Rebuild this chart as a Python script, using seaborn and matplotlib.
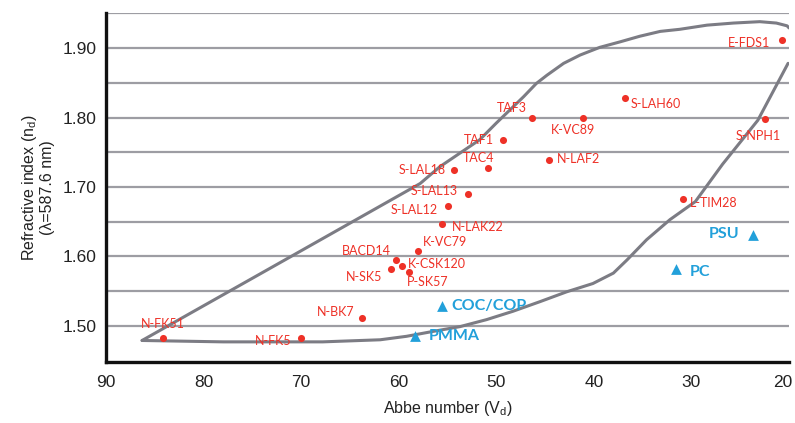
import pandas as pd
import matplotlib.pyplot as plt
import matplotlib.transforms as mtransforms
import seaborn as sns

# glass types: (Abbe number, refractive index)
glass_names = ["E-FDS1", "S-LAH60", "TAF3", "K-VC89", "S-NPH1", "TAF1", "TAC4",
               "S-LAL18", "N-LAF2", "S-LAL13", "L-TIM28", "S-LAL12", "N-LAK22",
               "K-VC79", "BACD14", "K-CSK120", "N-SK5", "P-SK57", "N-BK7",
               "N-FK51", "N-FK5"]
glass_abbe = [20.7, 36.8, 46.3, 41.1, 22.5, 49.3, 50.8, 54.3, 44.6, 52.9, 30.9,
              55.0, 55.6, 58.0, 60.3, 59.7, 60.8, 58.9, 63.8, 84.2, 70.0]
glass_nd = [1.912, 1.828, 1.800, 1.800, 1.798, 1.768, 1.727, 1.725, 1.739,
            1.690, 1.683, 1.673, 1.646, 1.608, 1.595, 1.586, 1.582, 1.577,
            1.511, 1.482, 1.482]
# label offsets in pixels (dx, dy) and alignment
glass_dx = [-12, 6, -6, -10, -6, -9, -10, -9, 8, -10, 7, -10, 10, 5, -5, 6, -9, -3, -7, 0, -10]
glass_dy = [-3, -6, 10, -12, -17, 0, 10, 0, 1, 3, -4, -4, -3, 9, 9, 2, -8, -10, 6, 14, -3]
glass_ha = ["right", "left", "right", "center", "center", "right", "center",
            "right", "left", "right", "left", "right", "left", "left", "right",
            "left", "right", "left", "right", "center", "right"]

# plastics
plastic_names = ["COC/COP", "PMMA", "PSU", "PC"]
plastic_abbe = [55.6, 58.3, 23.7, 31.6]
plastic_nd = [1.528, 1.486, 1.631, 1.582]
plastic_dx = [10, 13, -14, 14]
plastic_dy = [0, 0, 1, -3]
plastic_ha = ["left", "left", "right", "left"]

# outline of the glass region (upper branch then lower branch)
upper_abbe = [86.3, 70.4, 57.8, 55.8, 53.7, 51.7, 50.0, 48.6, 47.2, 45.9, 44.8,
              43.1, 41.4, 39.4, 37.3, 35.3, 33.2, 31.2, 28.4, 25.7, 23.0, 21.3,
              20.2, 20.0]
upper_nd = [1.479, 1.605, 1.705, 1.729, 1.749, 1.768, 1.792, 1.811, 1.830,
            1.849, 1.861, 1.878, 1.890, 1.901, 1.909, 1.917, 1.924, 1.927,
            1.933, 1.936, 1.938, 1.936, 1.932, 1.929]
lower_abbe = [86.3, 78.0, 67.8, 61.9, 59.2, 56.5, 53.7, 51.0, 48.3, 45.5, 42.8,
              40.1, 38.0, 36.6, 34.6, 32.2, 29.6, 26.8, 23.2, 20.1]
lower_nd = [1.479, 1.477, 1.477, 1.480, 1.485, 1.492, 1.499, 1.509, 1.521,
            1.535, 1.549, 1.561, 1.576, 1.595, 1.624, 1.653, 1.679, 1.733,
            1.796, 1.878]

RED = "#ee3127"
BLUE = "#22a0da"
GRID = "#9d9da3"
CURVE = "#7c7c84"
LABEL_FONT = ["Lato", "DejaVu Sans"]

sns.set_theme(style="white")
plt.rcParams["font.family"] = ["Liberation Sans", "DejaVu Sans"]
plt.rcParams["mathtext.default"] = "regular"

fig = plt.figure(figsize=(7.95, 4.23), dpi=100)
ax = fig.add_axes([0.1333, 0.1442, 0.8592, 0.8251])

for y in [1.50, 1.55, 1.60, 1.65, 1.70, 1.75, 1.80, 1.85, 1.90, 1.95]:
    ax.axhline(y, color=GRID, lw=1.6, zorder=1)

glass = pd.DataFrame({"abbe": glass_abbe, "nd": glass_nd})
plastic = pd.DataFrame({"abbe": plastic_abbe, "nd": plastic_nd})
upper = pd.DataFrame({"abbe": upper_abbe, "nd": upper_nd})
lower = pd.DataFrame({"abbe": lower_abbe, "nd": lower_nd})

sns.lineplot(data=upper, x="abbe", y="nd", sort=False, color=CURVE, lw=2.2, ax=ax, zorder=2)
sns.lineplot(data=lower, x="abbe", y="nd", sort=False, color=CURVE, lw=2.2, ax=ax, zorder=2)

sns.scatterplot(data=glass, x="abbe", y="nd", color=RED, s=26, linewidth=0, ax=ax, zorder=3)
sns.scatterplot(data=plastic, x="abbe", y="nd", color=BLUE, marker="^", s=60,
                linewidth=0, ax=ax, zorder=3)

for name, x, y, dx, dy, ha in zip(glass_names, glass_abbe, glass_nd, glass_dx, glass_dy, glass_ha):
    ax.annotate(name, (x, y), xytext=(dx, dy), textcoords="offset pixels",
                ha=ha, va="center", color=RED, fontsize=9, family=LABEL_FONT)

for name, x, y, dx, dy, ha in zip(plastic_names, plastic_abbe, plastic_nd, plastic_dx, plastic_dy, plastic_ha):
    ax.annotate(name, (x, y), xytext=(dx, dy), textcoords="offset pixels",
                ha=ha, va="center", color=BLUE, fontsize=11.5, fontweight="bold",
                family=LABEL_FONT)

ax.set_xlim(90, 20)
ax.set_ylim(1.448, 1.9505)
ax.set_xticks([90, 80, 70, 60, 50, 40, 30, 20])
ax.set_yticks([1.50, 1.60, 1.70, 1.80, 1.90])
ax.set_yticklabels(["1.50", "1.60", "1.70", "1.80", "1.90"])
ax.tick_params(axis="x", direction="in", length=5, width=1.2, color="#333333",
               pad=9, labelsize=12.5, labelcolor="#222222")
ax.tick_params(axis="y", length=0, pad=7, labelsize=12.5, labelcolor="#222222")

# keep the last x label inside the figure
last = ax.get_xticklabels()[-1]
last.set_transform(last.get_transform() + mtransforms.ScaledTranslation(-6 / 100, 0, fig.dpi_scale_trans))

ax.set_xlabel("Abbe number (V$_d$)", fontsize=11.5, color="#222222", labelpad=7)
ax.set_ylabel("Refractive index (n$_d$)\n(λ=587.6 nm)", fontsize=11.5,
              color="#222222", labelpad=5, linespacing=1.15)

for side in ["top", "right"]:
    ax.spines[side].set_visible(False)
for side in ["left", "bottom"]:
    ax.spines[side].set_color("#111111")
    ax.spines[side].set_linewidth(2.4)
ax.grid(False)

fig.savefig("out.png", dpi=100)
